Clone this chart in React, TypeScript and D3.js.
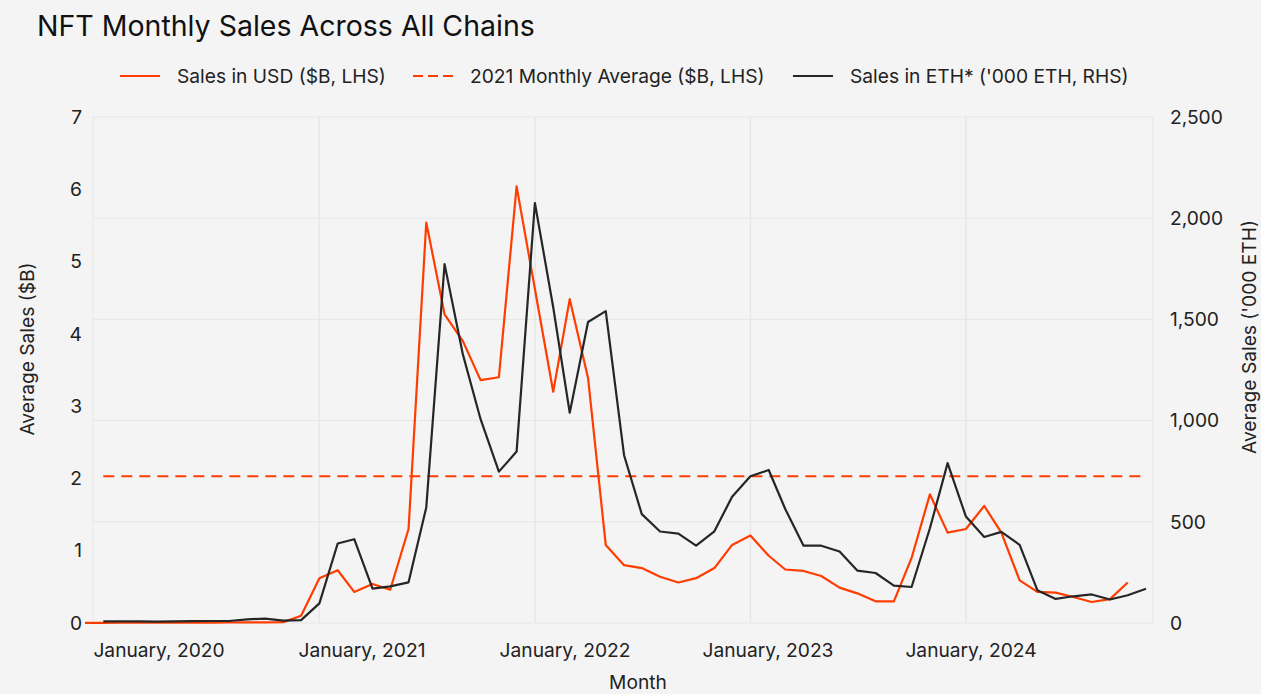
import React from 'react';
import * as d3 from 'd3';

// monthly series
const usdStart = new Date(2019, 11, 1);
const ethStart = new Date(2020, 0, 1);

const salesUsd = [
  0.003, 0.003, 0.004, 0.004, 0.004, 0.005, 0.006, 0.006, 0.007, 0.008, 0.01, 0.012,
  0.10, 0.62, 0.73, 0.43, 0.54, 0.46, 1.30, 5.54, 4.27, 3.90, 3.36, 3.40,
  6.04, 4.62, 3.20, 4.48, 3.39, 1.08, 0.80, 0.76, 0.64, 0.56, 0.62, 0.76,
  1.08, 1.21, 0.93, 0.74, 0.72, 0.65, 0.49, 0.41, 0.30, 0.30, 0.90, 1.78,
  1.25, 1.30, 1.62, 1.25, 0.59, 0.43, 0.42, 0.36, 0.29, 0.33, 0.56,
];

const salesEth = [
  8, 8, 8, 7, 8, 9, 10, 10, 18, 22, 12, 14,
  97, 393, 414, 170, 181, 201, 571, 1773, 1327, 1007, 748, 847,
  2075, 1560, 1039, 1487, 1541, 829, 538, 452, 442, 382, 453, 624,
  725, 756, 563, 382, 382, 353, 259, 247, 185, 178, 468, 790,
  526, 425, 450, 386, 162, 119, 132, 141, 116, 137, 169,
];

const avg2021 = 2.03;

const leftTicks = [0, 1, 2, 3, 4, 5, 6, 7];
const rightTicks = [0, 500, 1000, 1500, 2000, 2500];
const xLabels = ['January, 2020', 'January, 2021', 'January, 2022', 'January, 2023', 'January, 2024'];
const yearLines = [2021, 2022, 2023, 2024];

const legendItems = [
  { label: 'Sales in USD ($B, LHS)', color: '#FF3D00', dash: null },
  { label: '2021 Monthly Average ($B, LHS)', color: '#FF3D00', dash: '10,5' },
  { label: "Sales in ETH* ('000 ETH, RHS)", color: '#262626', dash: null },
];

const W = 1261;
const H = 694;
const plot = { left: 93, right: 1153, top: 117, bottom: 623 };
const FONT = 'Inter, "Noto Sans", sans-serif';
const ORANGE = '#FF3D00';
const DARK = '#262626';
const FS = 19.2;

const usdDates = salesUsd.map((_, i) => d3.timeMonth.offset(usdStart, i));
const ethDates = salesEth.map((_, i) => d3.timeMonth.offset(ethStart, i));

const x = d3.scaleTime()
  .domain([usdStart, ethDates[ethDates.length - 1]])
  .range([85, 1146]);

const yL = d3.scaleLinear().domain([0, 7]).range([plot.bottom, plot.top]);
const yR = d3.scaleLinear().domain([0, 2500]).range([plot.bottom, plot.top]);

const xLab = d3.scalePoint<string>().domain(xLabels).range([159, 971]);

const usdLine = d3.line<number>()
  .x((_, i) => x(usdDates[i]))
  .y(d => yL(d));

const ethLine = d3.line<number>()
  .x((_, i) => x(ethDates[i]))
  .y(d => yR(d));

const fmt = d3.format(',');

const legendX = [120, 413, 793];

export default function App() {
  return (
    <svg width={W} height={H} style={{ position: 'fixed', left: 0, top: 0, display: 'block' }}
      fontFamily={FONT}>
      <rect width={W} height={H} fill="#F4F4F4" />

      <text x={37} y={36} fontSize={28.5} fill="#111">NFT Monthly Sales Across All Chains</text>

      {legendItems.map((it, i) => (
        <g key={it.label} transform={`translate(${legendX[i]},76)`}>
          <line x1={0} x2={40} y1={0} y2={0} stroke={it.color} strokeWidth={2}
            strokeDasharray={it.dash || undefined} />
          <text x={57} y={0} dy="0.35em" fontSize={FS} fill="#222">{it.label}</text>
        </g>
      ))}

      {/* grid */}
      {rightTicks.map(t => (
        <line key={t} x1={plot.left} x2={plot.right} y1={yR(t)} y2={yR(t)} stroke="#E6E6E6" strokeWidth={1} />
      ))}
      {yearLines.map(yr => (
        <line key={yr} x1={x(new Date(yr, 0, 1))} x2={x(new Date(yr, 0, 1))} y1={plot.top} y2={plot.bottom}
          stroke="#E6E6E6" strokeWidth={1.5} />
      ))}
      <line x1={plot.left} x2={plot.left} y1={plot.top} y2={plot.bottom} stroke="#E6E6E6" />
      <line x1={plot.right} x2={plot.right} y1={plot.top} y2={plot.bottom} stroke="#E6E6E6" />

      {/* left axis */}
      {leftTicks.map(t => (
        <text key={t} x={82} y={yL(t)} dy="0.35em" textAnchor="end" fontSize={FS} fill="#222">{t}</text>
      ))}
      {/* right axis */}
      {rightTicks.map(t => (
        <text key={t} x={1170} y={yR(t)} dy="0.35em" fontSize={FS} fill="#222">{fmt(t)}</text>
      ))}
      {/* x labels */}
      {xLabels.map(l => (
        <text key={l} x={xLab(l)} y={650} dy="0.35em" textAnchor="middle" fontSize={FS} fill="#222">{l}</text>
      ))}

      <text x={638} y={682} dy="0.35em" textAnchor="middle" fontSize={FS} fill="#222">Month</text>
      <text transform={`translate(27,349) rotate(-90)`} dy="0.35em" textAnchor="middle" fontSize={FS} fill="#222">
        Average Sales ($B)
      </text>
      <text transform={`translate(1249,337) rotate(-90)`} dy="0.35em" textAnchor="middle" fontSize={FS} fill="#222">
        Average Sales ('000 ETH)
      </text>

      {/* series */}
      <line x1={x(ethDates[0])} x2={x(ethDates[ethDates.length - 1])} y1={yL(avg2021)} y2={yL(avg2021)}
        stroke={ORANGE} strokeWidth={2.2} strokeDasharray="11,7" />
      <path d={usdLine(salesUsd) || ''} fill="none" stroke={ORANGE} strokeWidth={2.2} strokeLinejoin="round" />
      <path d={ethLine(salesEth) || ''} fill="none" stroke={DARK} strokeWidth={2.2} strokeLinejoin="round" />
    </svg>
  );
}
